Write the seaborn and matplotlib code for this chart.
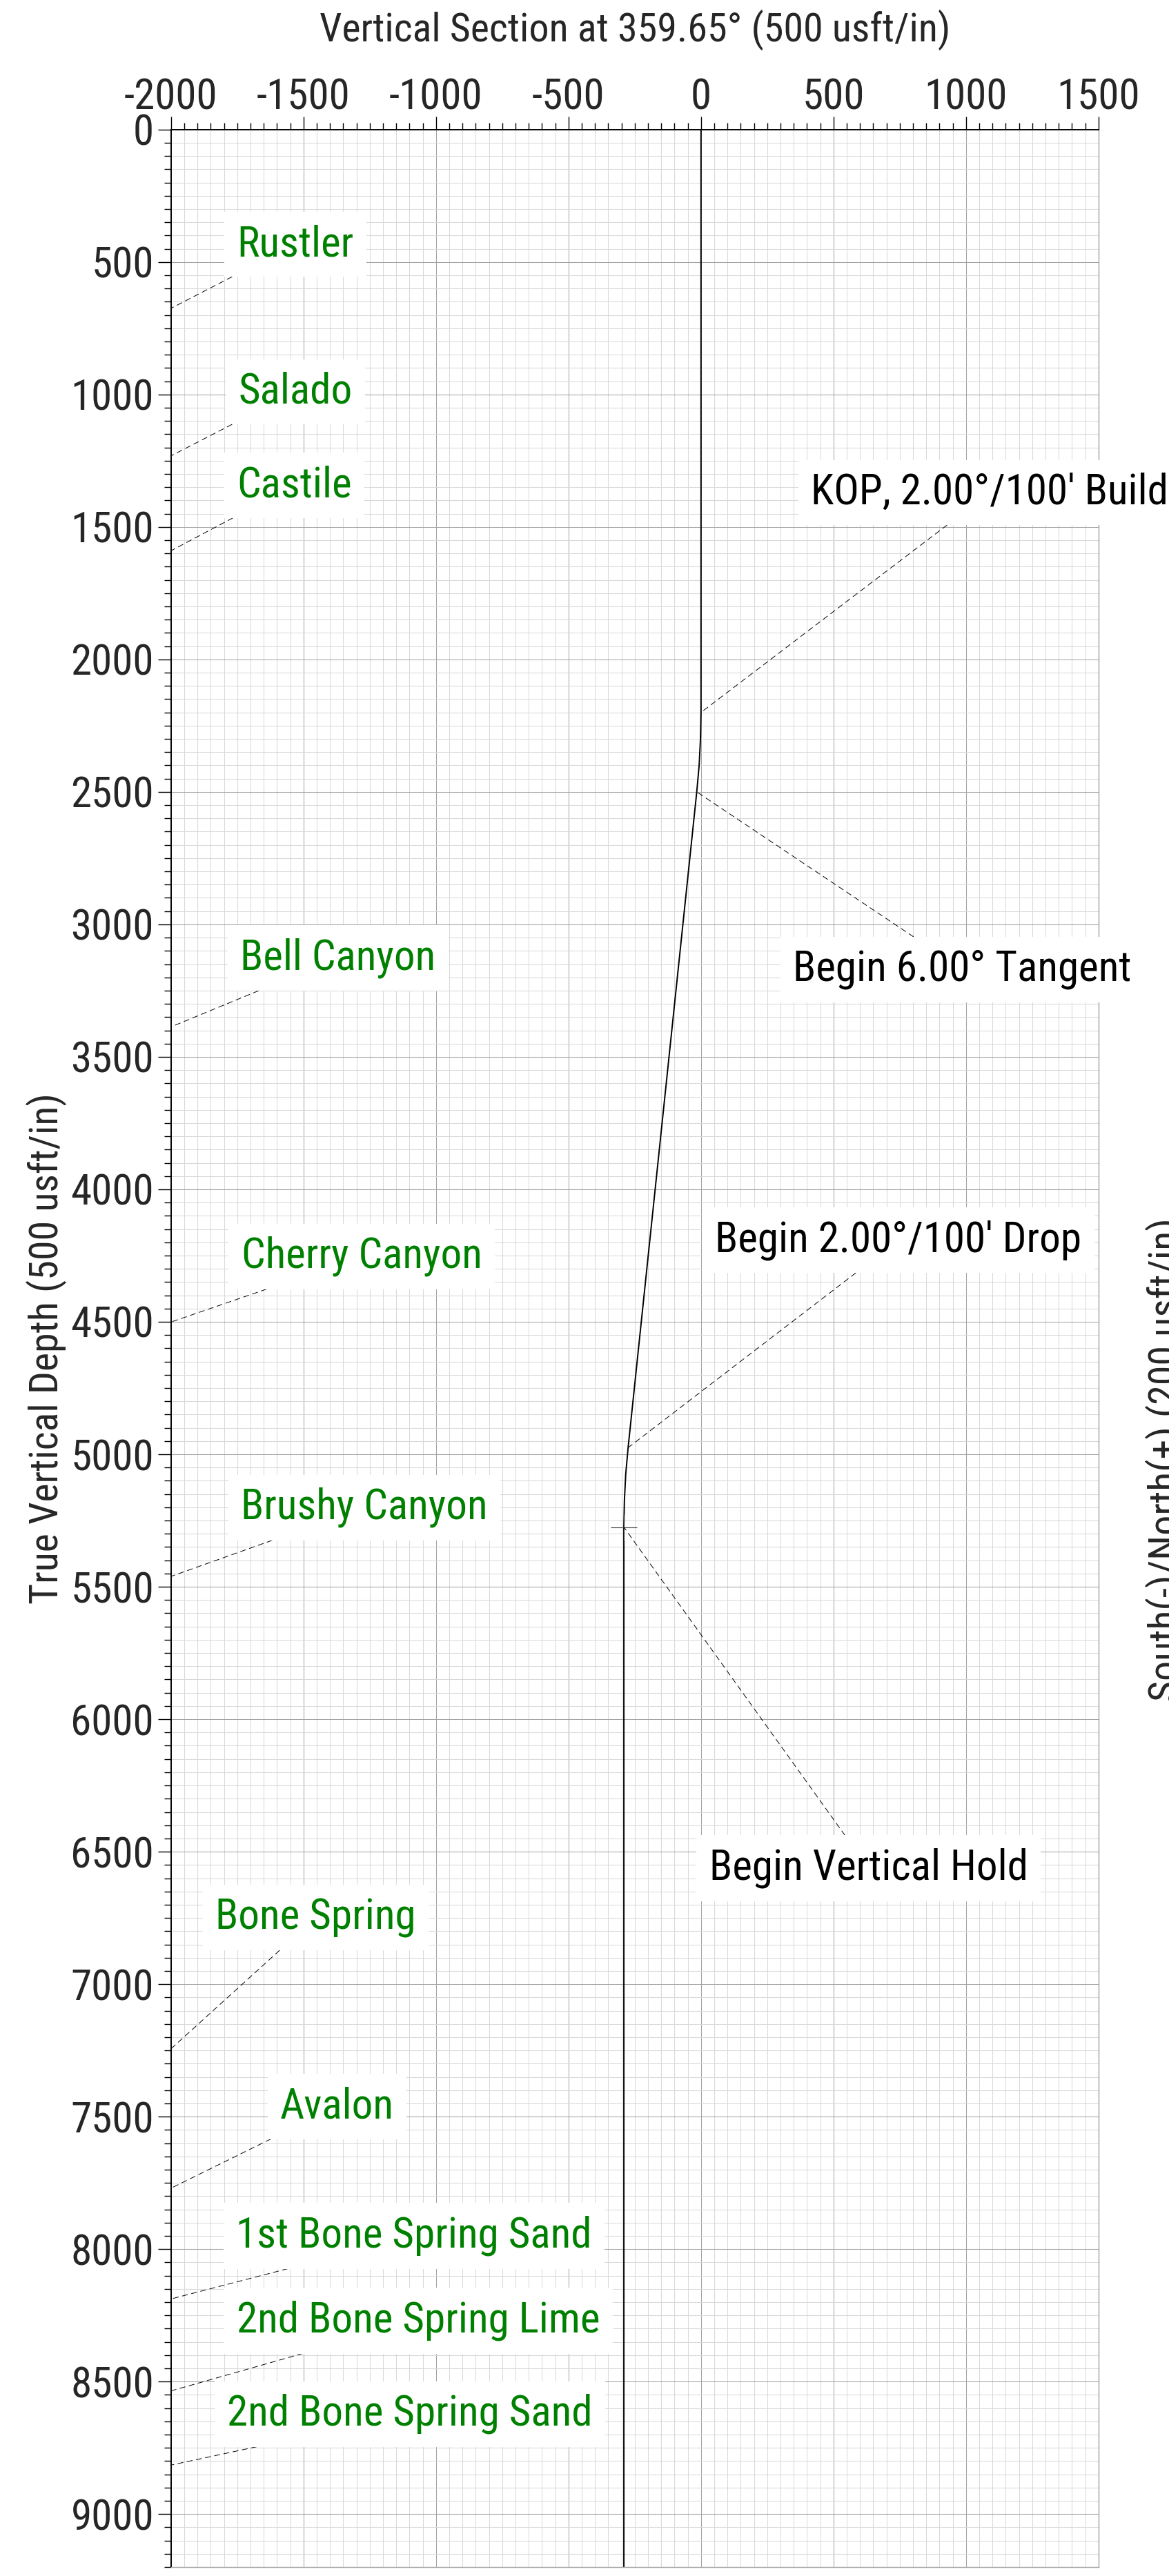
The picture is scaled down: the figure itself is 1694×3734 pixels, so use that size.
import numpy as np
import pandas as pd
import seaborn as sns
import matplotlib.pyplot as plt
from matplotlib import font_manager as fm
from matplotlib.ticker import MultipleLocator

# wellpath: vertical section (usft) vs true vertical depth (usft)
vs_path = [0, 0, -2, -7, -16, -275, -284, -289, -291, -291]
tvd_path = [0, 2200, 2300, 2400, 2500, 4975, 5075, 5175, 5275, 9300]

# formation tops (TVD, usft)
formation_names = ['Rustler', 'Salado', 'Castile', 'Bell Canyon', 'Cherry Canyon',
                   'Brushy Canyon', 'Bone Spring', 'Avalon', '1st Bone Spring Sand',
                   '2nd Bone Spring Lime', '2nd Bone Spring Sand']
formation_tvd = [675, 1232, 1590, 3387, 4501, 5461, 7244, 7770, 8188, 8535, 8815]

# well events on the path
event_names = ["KOP, 2.00°/100' Build", 'Begin 6.00° Tangent',
               "Begin 2.00°/100' Drop", 'Begin Vertical Hold']
event_vs = [0, -16, -275, -291]
event_tvd = [2200, 2500, 4975, 5275]

# where the labels sit (layout only)
formation_label_pos = [(-1531, 433), (-1531, 990), (-1534, 1343), (-1370, 3127),
                       (-1280, 4253), (-1271, 5201), (-1454, 6749), (-1373, 7461),
                       (-1082, 7950), (-1067, 8270), (-1098, 8622)]
event_label_pos = [(1090, 1370), (986, 3170), (745, 4192), (632, 6562)]

sns.set_theme(style='white')

# pick the narrowest sans that is installed
installed = {f.name for f in fm.fontManager.ttflist}
font_family, font_stretch, fs = 'DejaVu Sans', 'normal', 36
for name in ['Liberation Sans Narrow', 'Arial Narrow', 'Roboto Condensed',
             'Noto Sans Condensed', 'Open Sans Condensed', 'DejaVu Sans Condensed']:
    if name in installed:
        font_family, fs = name, 44
        break
else:
    if any(f.name == 'DejaVu Sans' and 'condensed' in str(f.stretch)
           for f in fm.fontManager.ttflist):
        font_stretch, fs = 'condensed', 40
    elif 'Liberation Sans' in installed:
        font_family, fs = 'Liberation Sans', 40
label_fs = fs * 0.95

plt.rcParams['font.family'] = [font_family, 'DejaVu Sans']
plt.rcParams['font.stretch'] = font_stretch
plt.rcParams['axes.unicode_minus'] = False

W, H = 1694, 3734
fig = plt.figure(figsize=(W / 100, H / 100), dpi=100)
left, right, top, bottom = 247.7, 1591.9, 187.7, 3721.1
ax = fig.add_axes([left / W, (H - bottom) / H, (right - left) / W, (bottom - top) / H])

ax.set_xlim(-2000, 1500)
ax.set_ylim(9200, 0)

ax.xaxis.set_major_locator(MultipleLocator(500))
ax.xaxis.set_minor_locator(MultipleLocator(50))
ax.yaxis.set_major_locator(MultipleLocator(500))
ax.yaxis.set_minor_locator(MultipleLocator(50))
ax.grid(which='minor', color='#d9d9d9', lw=0.75)
ax.grid(which='major', color='#a3a3a3', lw=0.75)
ax.set_axisbelow(True)

ax.xaxis.tick_top()
ax.tick_params(axis='both', which='major', direction='out', length=13.7, width=1.0,
               color='black', labelsize=fs)
ax.tick_params(axis='both', which='minor', direction='out', length=7.2, width=1.0,
               color='black')
ax.tick_params(axis='x', which='major', pad=-1.5)
ax.tick_params(axis='y', which='major', pad=4)
ax.tick_params(axis='x', which='both', top=True, bottom=False)
ax.tick_params(axis='y', which='both', left=True, right=False)
for s in ['right', 'bottom']:
    ax.spines[s].set_color('#a3a3a3')
    ax.spines[s].set_linewidth(1.0)
for s in ['top', 'left']:
    ax.spines[s].set_color('black')
    ax.spines[s].set_linewidth(1.4)

df = pd.DataFrame({'vs': vs_path, 'tvd': tvd_path})
sns.lineplot(data=df, x='vs', y='tvd', sort=False, estimator=None, color='black',
             lw=1.4, ax=ax)
ax.plot([event_vs[3]], [event_tvd[3]], marker='+', ms=27, mew=0.8, color='#444444')
ax.set_xlabel('')
ax.set_ylabel('')

leader = dict(arrowstyle='-', color='black', lw=0.7, linestyle=(0, (8, 6)),
              shrinkA=0, shrinkB=0)
box = dict(boxstyle='square,pad=0.3', fc='white', ec='none')

for name, tvd, pos in zip(formation_names, formation_tvd, formation_label_pos):
    ax.annotate(name, xy=(-2000, tvd), xytext=pos, ha='center', va='center',
                fontsize=fs, color='#008000', bbox=box, arrowprops=leader,
                annotation_clip=False)

for name, x, y, pos in zip(event_names, event_vs, event_tvd, event_label_pos):
    ax.annotate(name, xy=(x, y), xytext=pos, ha='center', va='center',
                fontsize=fs, color='black', bbox=box, arrowprops=leader,
                annotation_clip=False)

fig.text((left + right) / 2 / W, 1 - 43 / H, 'Vertical Section at 359.65° (500 usft/in)',
         ha='center', va='center', fontsize=label_fs)
fig.text(67 / W, 1 - (top + bottom) / 2 / H, 'True Vertical Depth (500 usft/in)',
         rotation=90, ha='center', va='center', fontsize=label_fs)
fig.text(1660 / W, 1 - 2116 / H, 'South(-)/North(+) (200 usft/in)', rotation=90,
         ha='left', va='center', fontsize=label_fs)

fig.savefig('out.png', dpi=100, facecolor='white')
